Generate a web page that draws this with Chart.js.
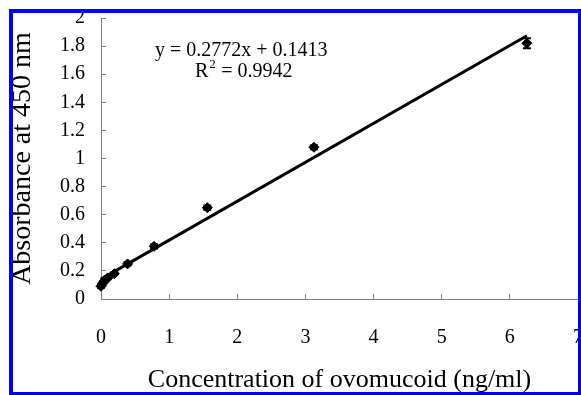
<!DOCTYPE html>
<html>
<head>
<meta charset="utf-8">
<script src="https://cdn.jsdelivr.net/npm/chart.js@4.4.1/dist/chart.umd.min.js"></script>
<style>
  html, body { margin: 0; padding: 0; background: #fff; overflow: hidden; }
  #wrap { position: relative; width: 581px; height: 395px; overflow: hidden; }
</style>
</head>
<body>
<div id="wrap"><canvas id="stdCurve" width="584" height="395"></canvas></div>
<script>
// standard curve data
const concentrations = [0, 0.024, 0.049, 0.098, 0.195, 0.39, 0.78, 1.56, 3.125, 6.25];
const absorbance = [0.09, 0.11, 0.13, 0.15, 0.18, 0.25, 0.375, 0.65, 1.08, 1.82];
const absorbanceErr = [0.01, 0.01, 0.01, 0.01, 0.01, 0.012, 0.015, 0.015, 0.015, 0.035];

// linear fit y = 0.2772x + 0.1413, end points
const trendX = [0, 6.25];
const trendY = [0.1413, 1.8738];

const xTickLabels = ['0', '1', '2', '3', '4', '5', '6', '7'];
const yTickLabels = ['0', '0.2', '0.4', '0.6', '0.8', '1', '1.2', '1.4', '1.6', '1.8', '2'];

const serif = "'Liberation Serif', 'Times New Roman', serif";

// error bars drawn through the scales
const errorBars = {
  id: 'errorBars',
  afterDatasetsDraw(chart) {
    const { ctx, scales: { x, y } } = chart;
    ctx.save();
    ctx.strokeStyle = '#000';
    ctx.lineWidth = 2;
    concentrations.forEach((c, i) => {
      const px = x.getPixelForValue(c);
      const top = y.getPixelForValue(absorbance[i] + absorbanceErr[i]);
      const bot = y.getPixelForValue(absorbance[i] - absorbanceErr[i]);
      ctx.beginPath();
      ctx.moveTo(px, top); ctx.lineTo(px, bot);
      ctx.moveTo(px - 4, top); ctx.lineTo(px + 4, top);
      ctx.moveTo(px - 4, bot); ctx.lineTo(px + 4, bot);
      ctx.stroke();
    });
    ctx.restore();
  }
};

// equation text + blue frame
const decorations = {
  id: 'decorations',
  afterDraw(chart) {
    const ctx = chart.ctx;
    ctx.save();
    ctx.fillStyle = '#000';
    ctx.textBaseline = 'alphabetic';
    ctx.font = '20px ' + serif;
    ctx.fillText('y = 0.2772x + 0.1413', 155, 56);
    ctx.fillText('R', 195, 77);
    const rw = ctx.measureText('R').width;
    ctx.font = '13px ' + serif;
    ctx.fillText('2', 195 + rw + 1, 68);
    ctx.font = '20px ' + serif;
    ctx.fillText(' = 0.9942', 195 + rw + 8, 77);

    ctx.fillStyle = '#0000ff';
    ctx.fillRect(9, 9, 575, 4);
    ctx.fillRect(9, 9, 4, 386);
    ctx.fillRect(578, 9, 6, 386);
    ctx.fillRect(9, 392, 575, 3);
    ctx.restore();
  }
};

new Chart(document.getElementById('stdCurve'), {
  type: 'scatter',
  data: {
    datasets: [
      {
        type: 'line',
        label: 'Linear fit',
        data: trendX.map((v, i) => ({ x: v, y: trendY[i] })),
        borderColor: '#000',
        borderWidth: 3,
        pointRadius: 0,
        fill: false,
        clip: false,
      },
      {
        label: 'Absorbance',
        data: concentrations.map((v, i) => ({ x: v, y: absorbance[i] })),
        pointStyle: 'rectRot',
        pointRadius: 5,
        backgroundColor: '#000',
        borderColor: '#000',
        borderWidth: 1,
        clip: false,
      },
    ],
  },
  plugins: [errorBars, decorations],
  options: {
    responsive: false,
    animation: false,
    layout: { padding: { top: 18, right: 0, left: 0, bottom: 0 } },
    plugins: { legend: { display: false }, tooltip: { enabled: false } },
    scales: {
      x: {
        type: 'linear',
        min: 0,
        max: 7,
        ticks: {
          stepSize: 1,
          padding: 32,
          maxRotation: 0,
          color: '#000',
          font: { family: serif, size: 20 },
          callback: (v, i) => xTickLabels[i],
        },
        grid: { drawOnChartArea: false, tickLength: -5, color: '#808080', tickWidth: 1 },
        border: { color: '#808080', width: 1 },
        title: {
          display: true,
          text: 'Concentration of ovomucoid (ng/ml)',
          color: '#000',
          font: { family: serif, size: 26, lineHeight: 1.14 },
          padding: { top: 0, bottom: 0 },
        },
        afterFit(scale) { scale.height = 96; scale.paddingLeft = 0; scale.paddingRight = 0; },
      },
      y: {
        min: 0,
        max: 2,
        ticks: {
          stepSize: 0.2,
          padding: 21,
          color: '#000',
          font: { family: serif, size: 20 },
          callback: (v, i) => yTickLabels[i],
        },
        grid: { drawOnChartArea: false, tickLength: -5, color: '#808080', tickWidth: 1 },
        border: { color: '#808080', width: 1 },
        title: {
          display: true,
          text: 'Absorbance at 450 nm',
          color: '#000',
          font: { family: serif, size: 28, lineHeight: 1.2 },
          padding: { top: 6, bottom: 0 },
        },
        afterFit(scale) { scale.width = 101; scale.paddingTop = 0; scale.paddingBottom = 0; },
      },
    },
  },
});
</script>
</body>
</html>
